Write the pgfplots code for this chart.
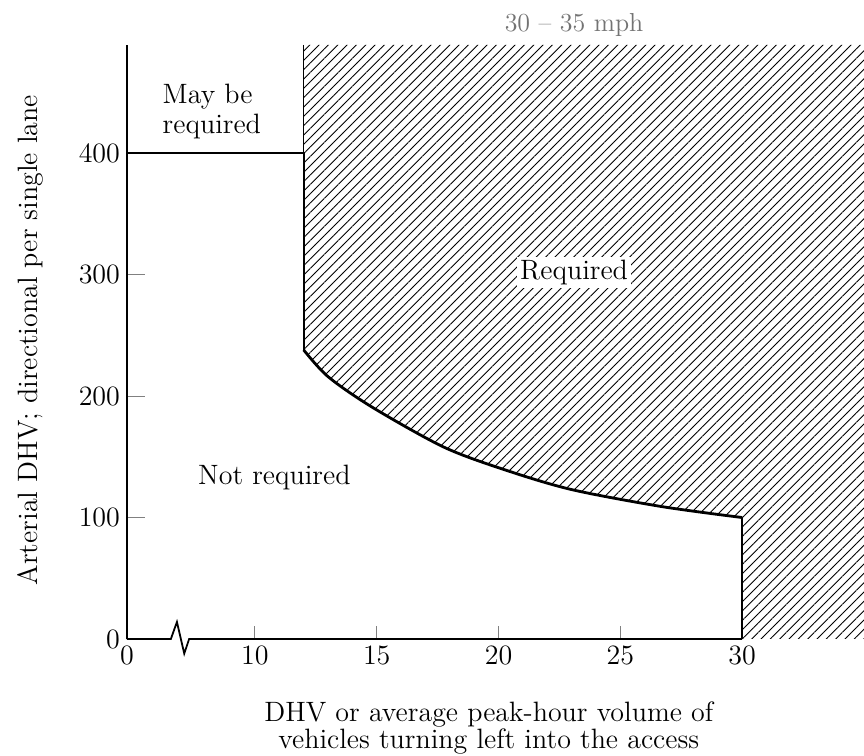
\documentclass[border=0pt]{standalone}
\usepackage{pgfplots}
\pgfplotsset{compat=1.18}
\usetikzlibrary{patterns.meta}
\begin{document}
\begin{tikzpicture}
\begin{axis}[
  name=ax,
  scale only axis, width=368.5pt, height=297pt,
  xmin=4.75, xmax=35, ymin=0, ymax=489,
  axis lines=left,
  axis line style={-, line width=0.9pt},
  x axis line style={draw=none},
  xtick={4.75,10,15,20,25,30},
  xticklabels={0,10,15,20,25,30},
  ytick={0,100,200,300,400},
  tick align=inside,
  xtick style={line width=0.5pt, /pgfplots/major tick length=6.5pt},
  ytick style={line width=0.5pt, /pgfplots/major tick length=9pt},
  tick label style={font=\fontsize{14}{16}\selectfont},
  /pgf/number format/assume math mode=true,
  clip=false,
]
% hatched "Required" region
\addplot[draw=none, pattern={Lines[angle=45,distance=3.3pt,line width=0.45pt]}]
  coordinates {(12,489) (12,238) (13,216) (14.8,191) (17.75,158) (20.3,139) (23,123) (26.7,109) (30,100) (30,0) (35,0) (35,489)} -- cycle;
% boundaries
\addplot[line width=0.5pt] coordinates {(12,489) (12,400)};
\addplot[line width=1.1pt] coordinates {(4.75,400) (12,400) (12,238)};
\addplot[line width=1.4pt, smooth] coordinates {(12,238) (13,216) (14.8,191) (17.75,158) (20.3,139) (23,123) (26.7,109) (30,100)};
\addplot[line width=1.3pt] coordinates {(30,100) (30,0)};
% x axis with break
\draw[line width=0.9pt] (axis cs:4.75,0) -- (axis cs:6.55,0) -- (axis cs:6.8,14) -- (axis cs:7.1,-12) -- (axis cs:7.3,0) -- (axis cs:30,0);
% labels
\node[fill=white, inner sep=1.5pt, font=\fontsize{14}{16}\selectfont] at (axis cs:23.1,302) {Required};
\node[font=\fontsize{14}{16}\selectfont] at (axis cs:10.8,133) {Not required};
\node[anchor=west, align=left, font=\fontsize{14}{15}\selectfont, inner sep=0pt] at (axis cs:6.2,434) {May be\\required};
\node[font=\fontsize{13}{15}\selectfont, text=black!55] at ([yshift=10pt]axis cs:23.1,489) {30 -- 35 mph};
\node[anchor=north, align=center, font=\fontsize{14}{11.5}\selectfont, inner sep=0pt] at ([yshift=-31pt]axis cs:19.6,0) {DHV or average peak-hour volume of\\vehicles turning left into the access};
\node[rotate=90, font=\fontsize{14}{16}\selectfont] at ([xshift=-48.5pt]axis cs:4.75,246) {Arterial DHV; directional per single lane};
\end{axis}
\pgfresetboundingbox
\path ([shift={(-63.5pt,-58.5pt)}]ax.south west) rectangle ([shift={(368.5pt,319.5pt)}]ax.south west);
\end{tikzpicture}
\end{document}
